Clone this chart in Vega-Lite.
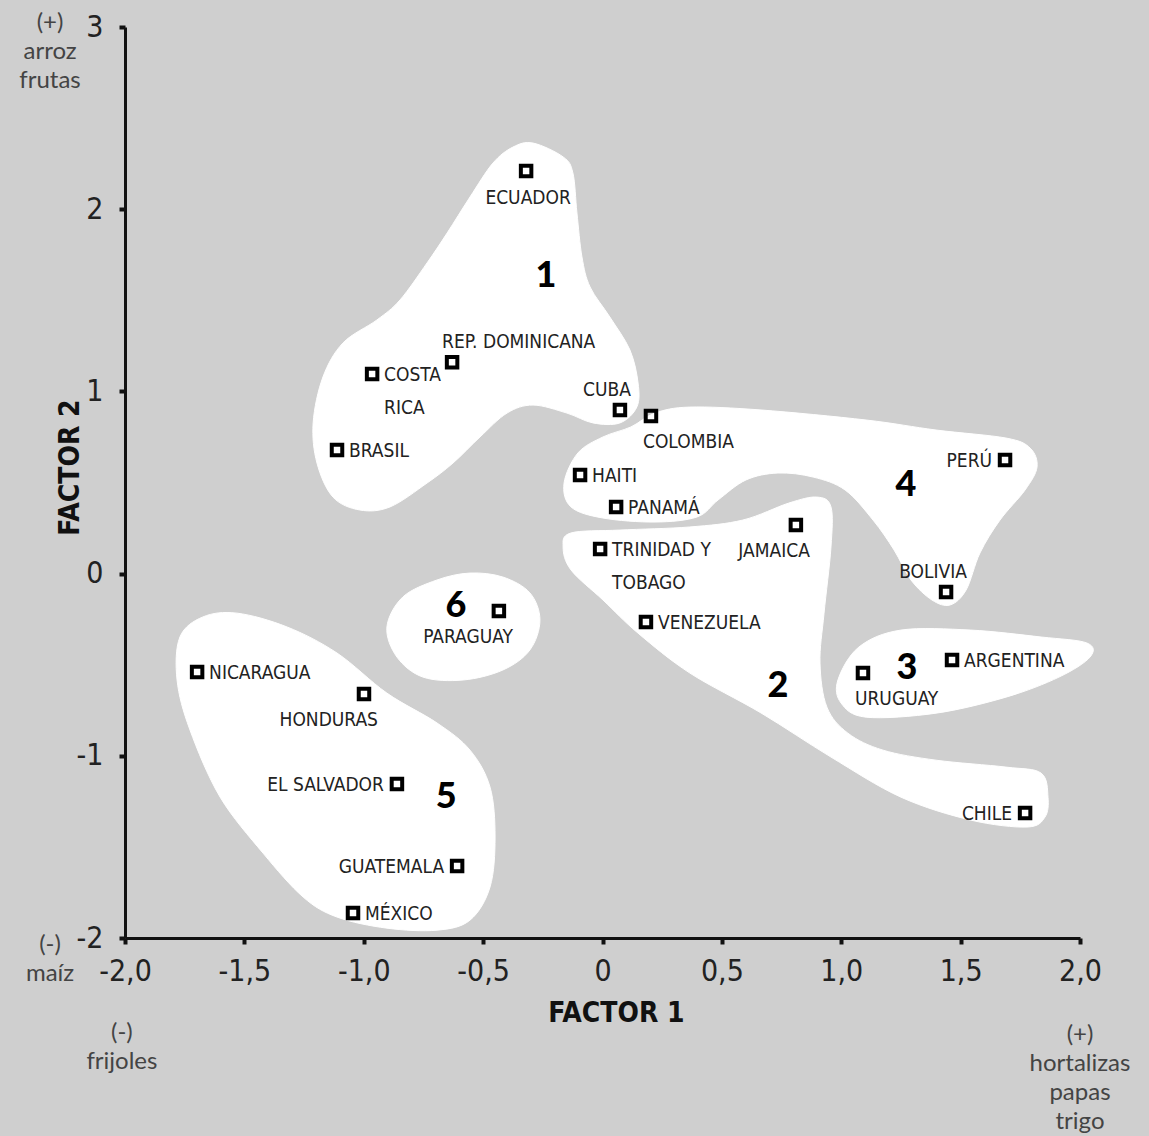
{
  "$schema": "https://vega.github.io/schema/vega-lite/v6.json",
  "width": 955,
  "height": 911,
  "autosize": {"type": "none"},
  "padding": {"left": 125, "top": 27, "right": 69, "bottom": 198},
  "background": "#cfcfcf",
  "config": {"view": {"stroke": null}},
  "datasets": {
    "countries": [
      {"pais": "ECUADOR", "x": -0.32, "y": 2.21, "pos": "below"},
      {"pais": "REP. DOMINICANA", "x": -0.63, "y": 1.16, "pos": "aboveL"},
      {"pais": "COSTA\nRICA", "x": -0.965, "y": 1.095, "pos": "right"},
      {"pais": "BRASIL", "x": -1.112, "y": 0.678, "pos": "right"},
      {"pais": "CUBA", "x": 0.073, "y": 0.898, "pos": "above"},
      {"pais": "COLOMBIA", "x": 0.203, "y": 0.865, "pos": "belowL"},
      {"pais": "HAITI", "x": -0.094, "y": 0.541, "pos": "right"},
      {"pais": "PANAMÁ", "x": 0.057, "y": 0.366, "pos": "right"},
      {"pais": "TRINIDAD  Y\nTOBAGO", "x": -0.01, "y": 0.135, "pos": "right"},
      {"pais": "JAMAICA", "x": 0.81, "y": 0.267, "pos": "belowR"},
      {"pais": "VENEZUELA", "x": 0.182, "y": -0.266, "pos": "right"},
      {"pais": "PERÚ", "x": 1.686, "y": 0.623, "pos": "left"},
      {"pais": "BOLIVIA", "x": 1.439, "y": -0.101, "pos": "above"},
      {"pais": "ARGENTINA", "x": 1.464, "y": -0.474, "pos": "right"},
      {"pais": "URUGUAY", "x": 1.091, "y": -0.546, "pos": "belowL"},
      {"pais": "CHILE", "x": 1.77, "y": -1.314, "pos": "left"},
      {"pais": "PARAGUAY", "x": -0.434, "y": -0.205, "pos": "belowR"},
      {"pais": "NICARAGUA", "x": -1.698, "y": -0.54, "pos": "right"},
      {"pais": "HONDURAS", "x": -0.999, "y": -0.661, "pos": "belowR"},
      {"pais": "EL SALVADOR", "x": -0.861, "y": -1.155, "pos": "left"},
      {"pais": "GUATEMALA", "x": -0.609, "y": -1.605, "pos": "left"},
      {"pais": "MÉXICO", "x": -1.045, "y": -1.863, "pos": "right"}
    ],
    "clusters": [
      {"grupo": "1", "x": -0.237, "y": 1.633},
      {"grupo": "2", "x": 0.735, "y": -0.617},
      {"grupo": "3", "x": 1.275, "y": -0.518},
      {"grupo": "4", "x": 1.271, "y": 0.486},
      {"grupo": "5", "x": -0.655, "y": -1.226},
      {"grupo": "6", "x": -0.614, "y": -0.178}
    ],
    "corners": [
      {"texto": "(+)\narroz\nfrutas", "x": -2.314, "y": 2.984},
      {"texto": "(-)\nmaíz", "x": -2.314, "y": -2.077},
      {"texto": "(-)\nfrijoles", "x": -2.013, "y": -2.56},
      {"texto": "(+)\nhortalizas\npapas\ntrigo", "x": 2.0, "y": -2.571}
    ],
    "blobs": [
      {"g": 1, "i": 1, "x": -0.291, "y": 2.363},
      {"g": 1, "i": 2, "x": -0.165, "y": 2.287},
      {"g": 1, "i": 3, "x": -0.124, "y": 2.199},
      {"g": 1, "i": 4, "x": -0.107, "y": 1.979},
      {"g": 1, "i": 5, "x": -0.086, "y": 1.738},
      {"g": 1, "i": 6, "x": -0.052, "y": 1.573},
      {"g": 1, "i": 7, "x": 0.031, "y": 1.408},
      {"g": 1, "i": 8, "x": 0.115, "y": 1.227},
      {"g": 1, "i": 9, "x": 0.149, "y": 1.046},
      {"g": 1, "i": 10, "x": 0.144, "y": 0.915},
      {"g": 1, "i": 11, "x": 0.073, "y": 0.827},
      {"g": 1, "i": 12, "x": -0.04, "y": 0.827},
      {"g": 1, "i": 13, "x": -0.149, "y": 0.881},
      {"g": 1, "i": 14, "x": -0.291, "y": 0.925},
      {"g": 1, "i": 15, "x": -0.4, "y": 0.881},
      {"g": 1, "i": 16, "x": -0.513, "y": 0.75},
      {"g": 1, "i": 17, "x": -0.626, "y": 0.607},
      {"g": 1, "i": 18, "x": -0.735, "y": 0.497},
      {"g": 1, "i": 19, "x": -0.89, "y": 0.366},
      {"g": 1, "i": 20, "x": -1.016, "y": 0.349},
      {"g": 1, "i": 21, "x": -1.129, "y": 0.42},
      {"g": 1, "i": 22, "x": -1.196, "y": 0.607},
      {"g": 1, "i": 23, "x": -1.212, "y": 0.827},
      {"g": 1, "i": 24, "x": -1.171, "y": 1.079},
      {"g": 1, "i": 25, "x": -1.087, "y": 1.266},
      {"g": 1, "i": 26, "x": -0.945, "y": 1.392},
      {"g": 1, "i": 27, "x": -0.848, "y": 1.502},
      {"g": 1, "i": 28, "x": -0.735, "y": 1.705},
      {"g": 1, "i": 29, "x": -0.651, "y": 1.869},
      {"g": 1, "i": 30, "x": -0.555, "y": 2.067},
      {"g": 1, "i": 31, "x": -0.459, "y": 2.253},
      {"g": 1, "i": 32, "x": -0.375, "y": 2.341},

      {"g": 4, "i": 1, "x": -0.161, "y": 0.497},
      {"g": 4, "i": 2, "x": -0.103, "y": 0.662},
      {"g": 4, "i": 3, "x": 0.002, "y": 0.75},
      {"g": 4, "i": 4, "x": 0.119, "y": 0.805},
      {"g": 4, "i": 5, "x": 0.22, "y": 0.881},
      {"g": 4, "i": 6, "x": 0.366, "y": 0.914},
      {"g": 4, "i": 7, "x": 0.664, "y": 0.898},
      {"g": 4, "i": 8, "x": 1.104, "y": 0.843},
      {"g": 4, "i": 9, "x": 1.397, "y": 0.788},
      {"g": 4, "i": 10, "x": 1.69, "y": 0.744},
      {"g": 4, "i": 11, "x": 1.791, "y": 0.689},
      {"g": 4, "i": 12, "x": 1.82, "y": 0.585},
      {"g": 4, "i": 13, "x": 1.77, "y": 0.459},
      {"g": 4, "i": 14, "x": 1.665, "y": 0.294},
      {"g": 4, "i": 15, "x": 1.581, "y": 0.113},
      {"g": 4, "i": 16, "x": 1.523, "y": -0.09},
      {"g": 4, "i": 17, "x": 1.456, "y": -0.172},
      {"g": 4, "i": 18, "x": 1.38, "y": -0.145},
      {"g": 4, "i": 19, "x": 1.292, "y": -0.035},
      {"g": 4, "i": 20, "x": 1.221, "y": 0.13},
      {"g": 4, "i": 21, "x": 1.133, "y": 0.294},
      {"g": 4, "i": 22, "x": 1.016, "y": 0.459},
      {"g": 4, "i": 23, "x": 0.882, "y": 0.53},
      {"g": 4, "i": 24, "x": 0.735, "y": 0.552},
      {"g": 4, "i": 25, "x": 0.601, "y": 0.514},
      {"g": 4, "i": 26, "x": 0.484, "y": 0.404},
      {"g": 4, "i": 27, "x": 0.396, "y": 0.311},
      {"g": 4, "i": 28, "x": 0.22, "y": 0.283},
      {"g": 4, "i": 29, "x": 0.002, "y": 0.305},
      {"g": 4, "i": 30, "x": -0.132, "y": 0.366},

      {"g": 2, "i": 1, "x": -0.132, "y": 0.223},
      {"g": 2, "i": 2, "x": 0.073, "y": 0.239},
      {"g": 2, "i": 3, "x": 0.366, "y": 0.256},
      {"g": 2, "i": 4, "x": 0.588, "y": 0.294},
      {"g": 2, "i": 5, "x": 0.78, "y": 0.387},
      {"g": 2, "i": 6, "x": 0.898, "y": 0.42},
      {"g": 2, "i": 7, "x": 0.957, "y": 0.366},
      {"g": 2, "i": 8, "x": 0.957, "y": 0.146},
      {"g": 2, "i": 9, "x": 0.928, "y": -0.217},
      {"g": 2, "i": 10, "x": 0.911, "y": -0.491},
      {"g": 2, "i": 11, "x": 0.94, "y": -0.733},
      {"g": 2, "i": 12, "x": 1.028, "y": -0.876},
      {"g": 2, "i": 13, "x": 1.175, "y": -0.969},
      {"g": 2, "i": 14, "x": 1.397, "y": -1.024},
      {"g": 2, "i": 15, "x": 1.69, "y": -1.062},
      {"g": 2, "i": 16, "x": 1.837, "y": -1.095},
      {"g": 2, "i": 17, "x": 1.866, "y": -1.227},
      {"g": 2, "i": 18, "x": 1.853, "y": -1.337},
      {"g": 2, "i": 19, "x": 1.778, "y": -1.391},
      {"g": 2, "i": 20, "x": 1.543, "y": -1.353},
      {"g": 2, "i": 21, "x": 1.25, "y": -1.227},
      {"g": 2, "i": 22, "x": 0.957, "y": -1.007},
      {"g": 2, "i": 23, "x": 0.664, "y": -0.765},
      {"g": 2, "i": 24, "x": 0.366, "y": -0.546},
      {"g": 2, "i": 25, "x": 0.149, "y": -0.327},
      {"g": 2, "i": 26, "x": 0.002, "y": -0.145},
      {"g": 2, "i": 27, "x": -0.132, "y": 0.02},
      {"g": 2, "i": 28, "x": -0.165, "y": 0.146},

      {"g": 3, "i": 1, "x": 0.986, "y": -0.584},
      {"g": 3, "i": 2, "x": 1.074, "y": -0.403},
      {"g": 3, "i": 3, "x": 1.25, "y": -0.31},
      {"g": 3, "i": 4, "x": 1.543, "y": -0.31},
      {"g": 3, "i": 5, "x": 1.837, "y": -0.348},
      {"g": 3, "i": 6, "x": 2.029, "y": -0.381},
      {"g": 3, "i": 7, "x": 2.042, "y": -0.458},
      {"g": 3, "i": 8, "x": 1.912, "y": -0.568},
      {"g": 3, "i": 9, "x": 1.69, "y": -0.678},
      {"g": 3, "i": 10, "x": 1.397, "y": -0.766},
      {"g": 3, "i": 11, "x": 1.104, "y": -0.788},
      {"g": 3, "i": 12, "x": 0.999, "y": -0.71},

      {"g": 6, "i": 1, "x": -0.903, "y": -0.293},
      {"g": 6, "i": 2, "x": -0.836, "y": -0.128},
      {"g": 6, "i": 3, "x": -0.693, "y": -0.035},
      {"g": 6, "i": 4, "x": -0.555, "y": 0.003},
      {"g": 6, "i": 5, "x": -0.417, "y": -0.019},
      {"g": 6, "i": 6, "x": -0.304, "y": -0.106},
      {"g": 6, "i": 7, "x": -0.262, "y": -0.255},
      {"g": 6, "i": 8, "x": -0.304, "y": -0.419},
      {"g": 6, "i": 9, "x": -0.417, "y": -0.529},
      {"g": 6, "i": 10, "x": -0.584, "y": -0.584},
      {"g": 6, "i": 11, "x": -0.752, "y": -0.568},
      {"g": 6, "i": 12, "x": -0.861, "y": -0.458},

      {"g": 5, "i": 1, "x": -1.77, "y": -0.348},
      {"g": 5, "i": 2, "x": -1.674, "y": -0.238},
      {"g": 5, "i": 3, "x": -1.531, "y": -0.217},
      {"g": 5, "i": 4, "x": -1.321, "y": -0.293},
      {"g": 5, "i": 5, "x": -1.112, "y": -0.436},
      {"g": 5, "i": 6, "x": -0.903, "y": -0.656},
      {"g": 5, "i": 7, "x": -0.693, "y": -0.82},
      {"g": 5, "i": 8, "x": -0.555, "y": -0.969},
      {"g": 5, "i": 9, "x": -0.471, "y": -1.172},
      {"g": 5, "i": 10, "x": -0.45, "y": -1.446},
      {"g": 5, "i": 11, "x": -0.471, "y": -1.72},
      {"g": 5, "i": 12, "x": -0.555, "y": -1.902},
      {"g": 5, "i": 13, "x": -0.693, "y": -1.957},
      {"g": 5, "i": 14, "x": -0.903, "y": -1.946},
      {"g": 5, "i": 15, "x": -1.112, "y": -1.885},
      {"g": 5, "i": 16, "x": -1.254, "y": -1.775},
      {"g": 5, "i": 17, "x": -1.422, "y": -1.534},
      {"g": 5, "i": 18, "x": -1.602, "y": -1.226},
      {"g": 5, "i": 19, "x": -1.728, "y": -0.858},
      {"g": 5, "i": 20, "x": -1.782, "y": -0.584}
    ]
  },
  "encoding": {
    "x": {
      "field": "x", "type": "quantitative",
      "scale": {"domain": [-2, 2], "nice": false, "zero": false},
      "axis": {
        "values": [-2, -1.5, -1, -0.5, 0, 0.5, 1, 1.5, 2],
        "labelExpr": "datum.value == 0 ? '0' : replace(replace(format(datum.value, '.1f'), '.', ','), '−', '-')",
        "grid": false,
        "domainColor": "#111", "domainWidth": 3,
        "tickColor": "#111", "tickWidth": 4, "tickSize": 6,
        "labelFont": "DejaVu Sans Condensed, Liberation Sans Narrow, sans-serif", "labelFontSize": 30, "labelColor": "#222",
        "labelPadding": 12, "labelFlush": false, "labelOverlap": false,
        "title": "FACTOR 1",
        "titleFont": "DejaVu Sans Condensed, Liberation Sans Narrow, sans-serif", "titleFontSize": 28, "titleFontWeight": "bold", "titleColor": "#111",
        "titleX": 491, "titleY": 75, "titleBaseline": "middle", "titleAlign": "center"
      }
    },
    "y": {
      "field": "y", "type": "quantitative",
      "scale": {"domain": [-2, 3], "nice": false, "zero": false},
      "axis": {
        "values": [-2, -1, 0, 1, 2, 3],
        "labelExpr": "replace(format(datum.value, 'd'), '−', '-')",
        "grid": false,
        "domainColor": "#111", "domainWidth": 3,
        "tickColor": "#111", "tickWidth": 4, "tickSize": 6,
        "labelFont": "DejaVu Sans Condensed, Liberation Sans Narrow, sans-serif", "labelFontSize": 30, "labelColor": "#222",
        "labelPadding": 16, "labelFlush": false, "labelOverlap": false,
        "title": "FACTOR 2",
        "titleFont": "DejaVu Sans Condensed, Liberation Sans Narrow, sans-serif", "titleFontSize": 28, "titleFontWeight": "bold", "titleColor": "#111",
        "titleX": -55, "titleY": 440, "titleBaseline": "middle", "titleAlign": "center", "titleAngle": -90
      }
    }
  },
  "layer": [
    {
      "data": {"name": "blobs"},
      "mark": {"type": "line", "interpolate": "cardinal-closed", "fill": "white", "stroke": "white", "strokeWidth": 1, "clip": false},
      "encoding": {
        "detail": {"field": "g", "type": "nominal"},
        "order": {"field": "i", "type": "quantitative"}
      }
    },
    {
      "data": {"name": "countries"},
      "mark": {"type": "point", "shape": "square", "filled": false, "stroke": "#000", "strokeWidth": 4, "size": 110, "opacity": 1}
    },
    {
      "data": {"name": "countries"},
      "transform": [{"filter": "datum.pos == 'right'"}],
      "mark": {"type": "text", "font": "DejaVu Sans Condensed, Liberation Sans Narrow, sans-serif", "fontSize": 19, "color": "#222", "align": "left", "baseline": "alphabetic", "dx": 12, "dy": 7, "lineHeight": 33, "lineBreak": "\n"},
      "encoding": {"text": {"field": "pais"}}
    },
    {
      "data": {"name": "countries"},
      "transform": [{"filter": "datum.pos == 'left'"}],
      "mark": {"type": "text", "font": "DejaVu Sans Condensed, Liberation Sans Narrow, sans-serif", "fontSize": 19, "color": "#222", "align": "right", "baseline": "alphabetic", "dx": -13, "dy": 7},
      "encoding": {"text": {"field": "pais"}}
    },
    {
      "data": {"name": "countries"},
      "transform": [{"filter": "datum.pos == 'below'"}],
      "mark": {"type": "text", "font": "DejaVu Sans Condensed, Liberation Sans Narrow, sans-serif", "fontSize": 19, "color": "#222", "align": "center", "baseline": "alphabetic", "dx": 2, "dy": 33},
      "encoding": {"text": {"field": "pais"}}
    },
    {
      "data": {"name": "countries"},
      "transform": [{"filter": "datum.pos == 'belowL'"}],
      "mark": {"type": "text", "font": "DejaVu Sans Condensed, Liberation Sans Narrow, sans-serif", "fontSize": 19, "color": "#222", "align": "left", "baseline": "alphabetic", "dx": -8, "dy": 32},
      "encoding": {"text": {"field": "pais"}}
    },
    {
      "data": {"name": "countries"},
      "transform": [{"filter": "datum.pos == 'belowR'"}],
      "mark": {"type": "text", "font": "DejaVu Sans Condensed, Liberation Sans Narrow, sans-serif", "fontSize": 19, "color": "#222", "align": "right", "baseline": "alphabetic", "dx": 14, "dy": 32},
      "encoding": {"text": {"field": "pais"}}
    },
    {
      "data": {"name": "countries"},
      "transform": [{"filter": "datum.pos == 'aboveL'"}],
      "mark": {"type": "text", "font": "DejaVu Sans Condensed, Liberation Sans Narrow, sans-serif", "fontSize": 19, "color": "#222", "align": "left", "baseline": "alphabetic", "dx": -10, "dy": -14},
      "encoding": {"text": {"field": "pais"}}
    },
    {
      "data": {"name": "countries"},
      "transform": [{"filter": "datum.pos == 'above'"}],
      "mark": {"type": "text", "font": "DejaVu Sans Condensed, Liberation Sans Narrow, sans-serif", "fontSize": 19, "color": "#222", "align": "center", "baseline": "alphabetic", "dx": -13, "dy": -14},
      "encoding": {"text": {"field": "pais"}}
    },
    {
      "data": {"name": "clusters"},
      "mark": {"type": "text", "font": "Lato", "fontWeight": 900, "fontSize": 36, "color": "#000", "align": "center", "baseline": "middle"},
      "encoding": {"text": {"field": "grupo"}}
    },
    {
      "data": {"name": "corners"},
      "mark": {"type": "text", "font": "Lato", "fontSize": 24, "color": "#444", "align": "center", "baseline": "alphabetic", "lineHeight": 29, "lineBreak": "\n", "clip": false},
      "encoding": {"text": {"field": "texto"}}
    }
  ]
}
